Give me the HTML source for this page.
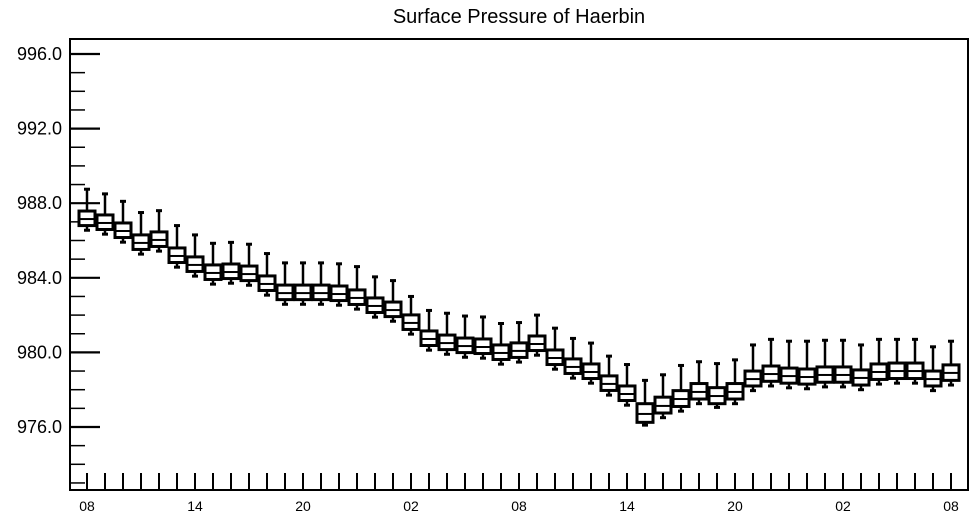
<!DOCTYPE html>
<html><head><meta charset="utf-8"><style>
html,body{margin:0;padding:0;background:#fff;}
svg{display:block;font-family:"Liberation Sans",Arial,sans-serif;}
</style></head><body>
<svg id="chart" width="975" height="518" viewBox="0 0 975 518">
<text x="519" y="23" font-size="20" text-anchor="middle" fill="#000">Surface Pressure of Haerbin</text>
<rect x="70" y="39" width="898" height="451" fill="none" stroke="#000" stroke-width="2"/>
<g id="yaxis"></g>
<g id="xaxis"></g>
<g id="boxes"></g>
</svg>
<script>
const hourLabels = ["08","14","20","02","08","14","20","02","08"];
const yTicks = [976,980,984,988,992,996];
const medV = [987.15,986.94,986.51,985.87,986.03,985.17,984.69,984.26,984.31,984.2,983.67,983.18,983.18,983.18,983.13,982.92,982.49,982.27,981.58,980.72,980.5,980.34,980.29,979.97,980.08,980.45,979.7,979.22,978.95,978.31,977.77,976.7,977.13,977.5,977.88,977.66,977.88,978.57,978.84,978.73,978.68,978.79,978.79,978.63,978.95,979.0,979.0,978.57,978.9];
const maxV = [988.75,988.5,988.1,987.5,987.6,986.8,986.3,985.85,985.9,985.8,985.3,984.8,984.8,984.8,984.75,984.6,984.05,983.85,983.0,982.25,982.1,981.95,981.9,981.55,981.6,982.0,981.3,980.75,980.5,979.8,979.35,978.5,978.8,979.3,979.5,979.4,979.6,980.4,980.7,980.6,980.6,980.65,980.65,980.4,980.7,980.7,980.7,980.3,980.6];
const q3V = [987.58,987.37,986.94,986.3,986.46,985.6,985.12,984.69,984.74,984.63,984.1,983.61,983.61,983.61,983.56,983.35,982.92,982.7,982.01,981.15,980.93,980.77,980.72,980.4,980.51,980.88,980.13,979.65,979.38,978.74,978.2,977.25,977.6,977.95,978.33,978.11,978.33,979.0,979.27,979.16,979.11,979.22,979.22,979.06,979.38,979.43,979.43,979.0,979.33];
const q1V = [986.8,986.59,986.16,985.52,985.68,984.82,984.34,983.91,983.96,983.85,983.32,982.83,982.83,982.83,982.78,982.57,982.14,981.92,981.23,980.37,980.15,979.99,979.94,979.62,979.73,980.1,979.35,978.87,978.6,977.96,977.42,976.25,976.75,977.1,977.5,977.25,977.5,978.2,978.45,978.35,978.3,978.4,978.4,978.25,978.55,978.6,978.6,978.2,978.5];
const minV = [986.55,986.34,985.91,985.27,985.43,984.57,984.09,983.66,983.71,983.6,983.07,982.58,982.58,982.58,982.53,982.32,981.89,981.67,980.98,980.12,979.9,979.74,979.69,979.37,979.48,979.85,979.1,978.62,978.35,977.71,977.17,976.1,976.5,976.85,977.25,977.05,977.25,977.95,978.2,978.1,978.05,978.15,978.15,978.0,978.3,978.35,978.35,977.95,978.25];

const NS="http://www.w3.org/2000/svg";
const yScale = v => 427 - (v-976)*18.65;
const xScale = i => 87 + 18*i;
function mk(tag, attrs, parent){const e=document.createElementNS(NS,tag);for(const k in attrs)e.setAttribute(k,attrs[k]);parent.appendChild(e);return e;}

const ya=document.getElementById('yaxis');
for(let v=973; v<=996; v++){
  const major = yTicks.indexOf(v)>=0;
  const t=mk('line',{x1:70,x2:major?100:85,y1:yScale(v),y2:yScale(v),stroke:'#000','stroke-width':major?2.2:1.5},ya);
  
  
}
yTicks.forEach(v=>{
  const t=mk('text',{x:62,y:yScale(v)+6,'font-size':18,'text-anchor':'end',fill:'#000'},ya);
  t.textContent=v.toFixed(1);
  
  
});
const xa=document.getElementById('xaxis');
for(let i=0;i<medV.length;i++){
  const t=mk('line',{x1:xScale(i),x2:xScale(i),y1:490,y2:473,stroke:'#000','stroke-width':2},xa);
  
  
}
hourLabels.forEach((l,k)=>{
  const t=mk('text',{x:xScale(k*6),y:511,'font-size':14,'text-anchor':'middle',fill:'#000'},xa);
  t.textContent=l;
  
  
});
const bx=document.getElementById('boxes');
for(let i=0;i<medV.length;i++){
  const g=mk('g',{},bx);
  
  
  const x=xScale(i);
  mk('line',{x1:x,x2:x,y1:yScale(maxV[i]),y2:yScale(q3V[i]),stroke:'#000','stroke-width':2.5},g);
  mk('line',{x1:x-3,x2:x+3,y1:yScale(maxV[i]),y2:yScale(maxV[i]),stroke:'#000','stroke-width':3},g);
  mk('line',{x1:x,x2:x,y1:yScale(q1V[i]),y2:yScale(minV[i]),stroke:'#000','stroke-width':2.5},g);
  mk('line',{x1:x-3,x2:x+3,y1:yScale(minV[i]),y2:yScale(minV[i]),stroke:'#000','stroke-width':3},g);
  mk('rect',{x:x-8,y:yScale(q3V[i]),width:16,height:yScale(q1V[i])-yScale(q3V[i]),fill:'#fff',stroke:'#000','stroke-width':3},g);
  mk('line',{x1:x-8,x2:x+8,y1:yScale(medV[i]),y2:yScale(medV[i]),stroke:'#000','stroke-width':2},g);
}
</script>
</body></html>
